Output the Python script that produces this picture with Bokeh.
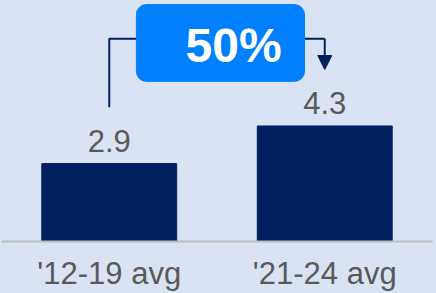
from bokeh.plotting import figure
from bokeh.models import FactorRange, Range1d, Arrow, NormalHead, GlobalInlineStyleSheet
from bokeh.core.properties import value
from bokeh.embed import file_html
from bokeh.resources import INLINE

# ---- data ----
categories = ["'12-19 avg", "'21-24 avg"]
values = [2.9, 4.3]
value_labels = ["2.9", "4.3"]
change_label = ["50%"]

BG = "#dae3f3"
NAVY = "#002060"
GRAY_TXT = "#595959"
BOX = "#0080ff"
FONT = "Liberation Sans"

p = figure(width=436, height=293,
           x_range=FactorRange(factors=categories, range_padding=0),
           y_range=Range1d(0, 8.97),
           output_backend="svg", toolbar_location=None,
           y_axis_location=None,
           min_border_left=1, min_border_right=4,
           min_border_top=0, min_border_bottom=49)
p.stylesheets = [GlobalInlineStyleSheet(css=f"body{{margin:0;background:{BG};overflow:hidden;}}")]
p.background_fill_color = BG
p.border_fill_color = BG
p.outline_line_color = None
p.xgrid.visible = False
p.ygrid.visible = False

ax = p.xaxis[0]
ax.axis_line_color = "#bcbcbc"
ax.axis_line_width = 2
ax.major_tick_line_color = None
ax.minor_tick_line_color = None
ax.major_tick_out = 0
ax.major_tick_in = 0
ax.major_label_standoff = 14
ax.major_label_text_font = FONT
ax.major_label_text_font_size = "31px"
ax.major_label_text_color = GRAY_TXT

# bars
p.vbar(x=categories, top=values, width=0.626, fill_color=NAVY, line_color=NAVY)

# value labels
p.text(x=categories, y=values, text=value_labels, text_align="center",
       text_baseline="alphabetic", y_offset=-23,
       text_font=value(FONT), text_font_size="31px", text_color=GRAY_TXT)

# bracket
gap = 2.1
top = max(values) + 3.25
p.line(x=[categories[0], categories[0], categories[1]],
       y=[values[0] + gap, top, top], line_color=NAVY, line_width=2)
x2 = categories.index(categories[1]) + 0.5
p.add_layout(Arrow(x_start=x2, y_start=top, x_end=x2, y_end=values[1] + gap,
                   line_color=NAVY, line_width=2,
                   end=NormalHead(size=14, fill_color=NAVY, line_color=NAVY)))

# change box
p.quad(left=[0.626], right=[1.406], top=[8.82], bottom=[5.96],
       fill_color=BOX, line_color=BOX, border_radius=10)
p.text(x=[1.077], y=[7.29], text=change_label, text_align="center",
       text_baseline="alphabetic", text_font=value(FONT),
       text_font_size="48px", text_font_style="bold", text_color="white")

open("out.html", "w").write(file_html(p, INLINE))
